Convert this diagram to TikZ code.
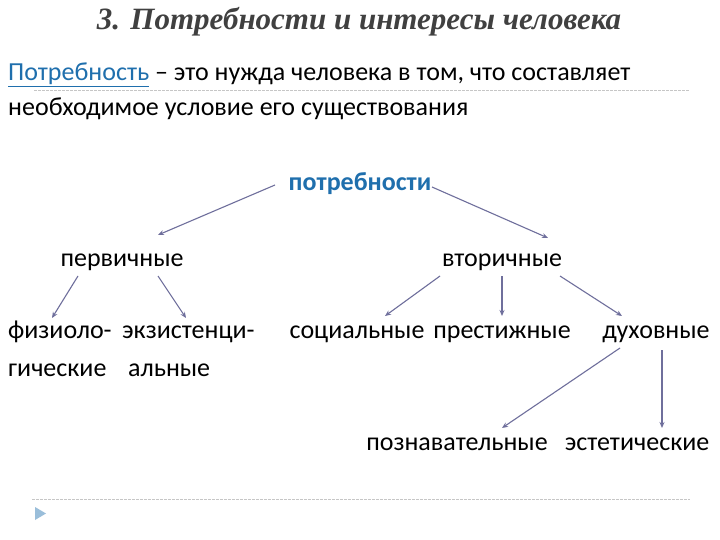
\documentclass[tikz,border=0pt]{standalone}
\usepackage{fontspec}
\setmainfont{Carlito}
\newfontfamily\titlefont{Liberation Serif}
\usetikzlibrary{arrows.meta,calc}
\definecolor{slideblue}{HTML}{1F6FAD}
\definecolor{arrowgray}{HTML}{6F6F9C}
\definecolor{titlegray}{HTML}{404040}
\tikzset{
  termtext/.style={
    inner sep=0pt,
    anchor=base,
    font=\fontsize{26}{38}\selectfont,
    align=left
  },
  linkarrow/.style={
    draw=arrowgray,
    line width=1.1pt,
    -{Stealth[length=6pt,width=5pt]}
  },
  ruleline/.style={
    draw=gray!45,
    line width=0.6pt,
    dash pattern=on 3pt off 1pt
  }
}

\begin{document}
\begin{tikzpicture}[x=1pt,y=-1pt]
\useasboundingbox[fill=white] (0,0) rectangle (720,540);
\node[inner sep=0pt, anchor=base, text=titlegray, font=\titlefont\fontsize{31}{34}\selectfont\bfseries\itshape] (title) at (359,30) {3. Потребности и интересы человека};
\node[termtext, anchor=base west] (def1) at (8,81) {\textcolor{slideblue}{\underline{Потребность}} – это нужда человека в том, что составляет};
\node[termtext, anchor=base west] (def2) at (8,116) {необходимое условие его существования};
\node[termtext, text=slideblue, font=\fontsize{26}{38}\selectfont\bfseries] (potr) at (360,191) {потребности};
\node[termtext] (perv) at (122,266) {первичные};
\node[termtext] (vtor) at (502,266) {вторичные};
\node[termtext, anchor=base west] (fiz) at (8,376) {физиоло-\\гические};
\node[termtext, anchor=base west] (ekz) at (122,376) {экзистенци-\\\ альные};
\node[termtext] (soc) at (357,338) {социальные};
\node[termtext] (prest) at (502,338) {престижные};
\node[termtext] (dukh) at (656,338) {духовные};
\node[termtext] (pozn) at (457,450) {познавательные};
\node[termtext] (est) at (637,450) {эстетические};
\draw[linkarrow] ($(potr.base)+(-85,-6)$) -- ($(perv.base)+(36,-31)$);
\draw[linkarrow] ($(potr.base)+(72,-4)$) -- ($(vtor.base)+(46,-28)$);
\draw[linkarrow] ($(perv.base)+(-44,10)$) -- ($(fiz.base west)+(44,-58)$);
\draw[linkarrow] ($(perv.base)+(36,10)$) -- ($(ekz.base west)+(64,-58)$);
\draw[linkarrow] ($(vtor.base)+(-62,10)$) -- ($(soc.base)+(28,-22)$);
\draw[linkarrow] ($(vtor.base)+(0,10)$) -- ($(prest.base)+(0,-22)$);
\draw[linkarrow] ($(vtor.base)+(58,10)$) -- ($(dukh.base)+(-34,-22)$);
\draw[linkarrow] ($(dukh.base)+(-36,10)$) -- ($(pozn.base)+(45,-22)$);
\draw[linkarrow] ($(dukh.base)+(6,12)$) -- ($(est.base)+(25,-22)$);
\draw[ruleline] (34,90) -- (690,90);
\draw[ruleline] (32,499) -- (690,499);
\fill[slideblue!45] (35,507) -- (46,513.5) -- (35,520) -- cycle;
\end{tikzpicture}
\end{document}
